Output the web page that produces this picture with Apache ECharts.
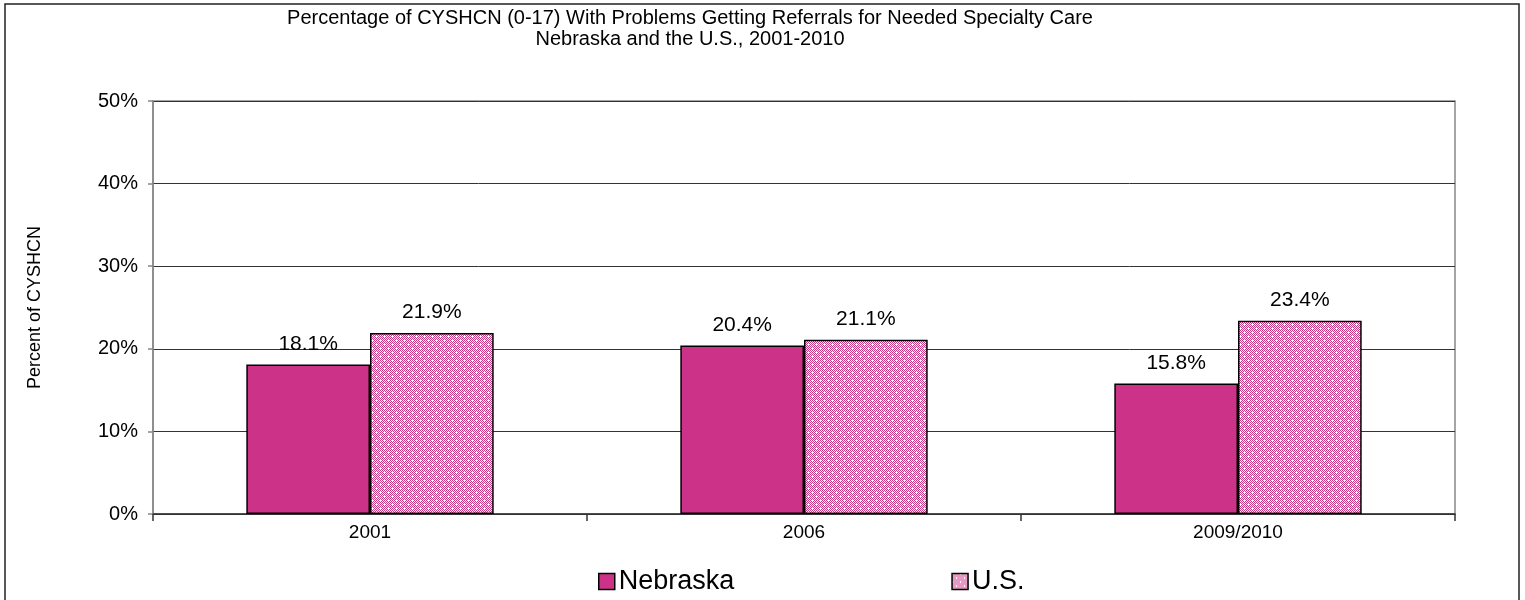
<!DOCTYPE html>
<html>
<head>
<meta charset="utf-8">
<script src="https://cdn.jsdelivr.net/npm/echarts@6/dist/echarts.min.js"></script>
<style>
  html, body { margin: 0; padding: 0; background: #fff; }
  #chart { width: 1525px; height: 600px; }
</style>
</head>
<body>
<div id="chart"></div>
<script>
// Survey years and percentages
const categories = ['2001', '2006', '2009/2010'];
const nebraska = [18.1, 20.4, 15.8];
const us = [21.9, 21.1, 23.4];
const yTicks = [0, 10, 20, 30, 40, 50];

const MAGENTA = '#CC3388';
const FONT = 'Liberation Sans, Arial, sans-serif';

// Checkered fill used for the U.S. bars
function checkerPattern() {
  const c = document.createElement('canvas');
  c.width = 8; c.height = 8;
  const ctx = c.getContext('2d');
  ctx.fillStyle = '#fff';
  ctx.fillRect(0, 0, 8, 8);
  ctx.fillStyle = MAGENTA;
  for (let y = 0; y < 8; y++) {
    for (let x = 0; x < 8; x++) {
      if ((x + y) % 2 === 0 && !(x === 0 && y === 0) && !(x === 4 && y === 4)) {
        ctx.fillRect(x, y, 1, 1);
      }
    }
  }
  return { image: c, repeat: 'repeat' };
}
const usFill = checkerPattern();

const chart = echarts.init(document.getElementById('chart'), null, { renderer: 'canvas' });

const labelStyle = {
  show: true,
  position: 'top',
  distance: 10,
  color: '#000',
  fontFamily: FONT,
  fontSize: 21,
  formatter: p => p.value.toFixed(1) + '%'
};

chart.setOption({
  animation: false,
  backgroundColor: '#fff',
  textStyle: { fontFamily: FONT },
  graphic: [
    {
      type: 'rect',
      shape: { x: 5, y: 4, width: 1514, height: 598 },
      style: { fill: 'none', stroke: '#222', lineWidth: 1.5 },
      z: -1
    },
    {
      type: 'text',
      x: 690, y: 8,
      style: {
        text: 'Percentage of CYSHCN (0-17) With Problems Getting Referrals for Needed Specialty Care\nNebraska and the U.S., 2001-2010',
        textAlign: 'center',
        fontFamily: FONT,
        fontSize: 20,
        lineHeight: 21,
        fill: '#000'
      }
    }
  ],
  grid: {
    left: 153, right: 70, top: 101, bottom: 86,
    show: true,
    borderColor: '#888',
    borderWidth: 1.5,
    backgroundColor: 'transparent'
  },
  legend: {
    left: 593,
    top: 563,
    itemWidth: 16,
    itemHeight: 16,
    itemGap: 217,
    icon: 'rect',
    textStyle: { fontSize: 27, color: '#000', fontFamily: FONT, padding: [0, 0, 0, -1] },
    data: [
      { name: 'Nebraska', itemStyle: { color: MAGENTA, borderColor: '#000', borderWidth: 1.5 } },
      { name: 'U.S.', itemStyle: { color: usFill, borderColor: '#000', borderWidth: 1.5 } }
    ]
  },
  xAxis: {
    type: 'category',
    data: categories,
    boundaryGap: true,
    axisLine: { show: true, lineStyle: { color: '#333', width: 1.5 } },
    axisTick: { show: true, alignWithLabel: false, length: 7, lineStyle: { color: '#333', width: 1.5 } },
    axisLabel: { color: '#000', fontSize: 19, fontFamily: FONT, margin: 9 },
    splitLine: { show: false }
  },
  yAxis: {
    type: 'value',
    min: yTicks[0],
    max: yTicks[yTicks.length - 1],
    interval: 10,
    name: 'Percent of CYSHCN',
    nameLocation: 'middle',
    nameGap: 109,
    nameRotate: 90,
    nameTextStyle: { color: '#000', fontSize: 18, fontFamily: FONT },
    axisLine: { show: true, lineStyle: { color: '#888', width: 1.5 } },
    axisTick: { show: true, inside: false, length: 5, lineStyle: { color: '#888', width: 1.5 } },
    axisLabel: { color: '#000', fontSize: 20, fontFamily: FONT, margin: 15, formatter: v => v + '%' },
    splitLine: { show: true, lineStyle: { color: '#333', width: 1 } }
  },
  series: [
    {
      name: 'Nebraska',
      type: 'bar',
      data: nebraska,
      barWidth: '28.5%',
      barGap: '0%',
      itemStyle: { color: MAGENTA, borderColor: '#000', borderWidth: 1.5 },
      label: labelStyle
    },
    {
      name: 'U.S.',
      type: 'bar',
      data: us,
      barWidth: '28.5%',
      itemStyle: { color: usFill, borderColor: '#000', borderWidth: 1.5 },
      label: labelStyle
    }
  ]
});
</script>
</body>
</html>
